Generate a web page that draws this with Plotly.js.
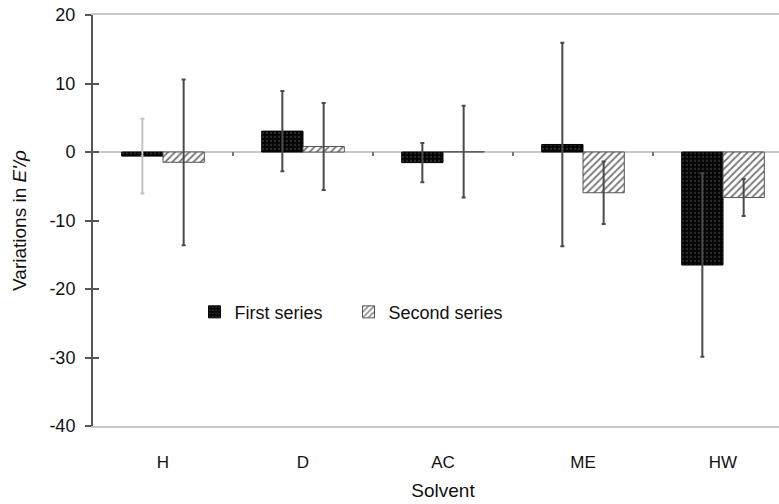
<!DOCTYPE html>
<html>
<head>
<meta charset="utf-8">
<script src="https://cdn.plot.ly/plotly-3.0.1.min.js"></script>
<style>
html,body{margin:0;padding:0;overflow:hidden;background:#fff;width:779px;height:504px;}
#chart{width:795px;height:504px;}
</style>
</head>
<body>
<div id="chart"></div>
<script>
const categories = ['H', 'D', 'AC', 'ME', 'HW'];
const firstSeries = [-0.6, 3.05, -1.55, 1.1, -16.5];
const firstErr = [5.45, 5.85, 2.85, 14.85, 13.4];
const secondSeries = [-1.5, 0.8, 0.05, -5.95, -6.65];
const secondErr = [12.1, 6.35, 6.7, 4.55, 2.7];
const seriesNames = ['First series', 'Second series'];
const yTicks = [-40, -30, -20, -10, 0, 10, 20];

const font = 'Liberation Sans, Arial, sans-serif';
const darkErr = '#4a4a4a';
const lightErr = '#c4c4c4';

// first series: error bars for H drawn in light gray, the rest dark gray
const firstErrDark = firstErr.map((e, i) => i === 0 ? 0 : e);

const traces = [
  {
    type: 'bar', name: seriesNames[0], x: categories, y: firstSeries,
    offsetgroup: 'a', legend: 'legend',
    marker: {color: '#050505', line: {color: '#000', width: 1},
             pattern: {shape: '.', fgcolor: '#2c2c2c', bgcolor: '#050505', size: 4, solidity: 0.25}},
    error_y: {type: 'data', array: firstErrDark, visible: true, color: darkErr, thickness: 2, width: 2}
  },
  {
    type: 'bar', name: seriesNames[0], x: [categories[0]], y: [firstSeries[0]],
    offsetgroup: 'a', showlegend: false, hoverinfo: 'skip',
    marker: {color: 'rgba(0,0,0,0)', line: {width: 0}},
    error_y: {type: 'data', array: [firstErr[0]], visible: true, color: lightErr, thickness: 2, width: 2}
  },
  {
    type: 'bar', name: seriesNames[1], x: categories, y: secondSeries,
    offsetgroup: 'b', legend: 'legend2',
    marker: {color: '#ffffff', line: {color: '#555555', width: 1},
             pattern: {shape: '/', fgcolor: '#777777', bgcolor: '#ffffff', size: 5, solidity: 0.35}},
    error_y: {type: 'data', array: secondErr, visible: true, color: darkErr, thickness: 2, width: 2}
  },
  // carries the inside half of the crossing y ticks
  {
    type: 'scatter', x: [categories[0]], y: [0], yaxis: 'y2', mode: 'markers',
    marker: {opacity: 0}, showlegend: false, hoverinfo: 'skip'
  }
];

// small category-boundary ticks on the zero line
const shapes = categories.map((c, i) => ({
  type: 'line', xref: 'x', yref: 'y',
  x0: i + 0.5, x1: i + 0.5, y0: 0, y1: -0.6,
  line: {color: '#777777', width: 2}
}));

const legendFont = {family: font, size: 18, color: '#111'};

const layout = {
  width: 795, height: 504,
  margin: {l: 93, r: 2, t: 15, b: 78},
  paper_bgcolor: '#ffffff', plot_bgcolor: '#ffffff',
  font: {family: font, size: 17, color: '#111'},
  barmode: 'group', bargap: 0.41, bargroupgap: 0,
  showlegend: true,
  legend: {orientation: 'h', x: 0.145, y: 0.277, xanchor: 'left', yanchor: 'middle',
           bgcolor: 'rgba(0,0,0,0)', font: legendFont, itemwidth: 30},
  legend2: {orientation: 'h', x: 0.365, y: 0.277, xanchor: 'left', yanchor: 'middle',
           bgcolor: 'rgba(0,0,0,0)', font: legendFont, itemwidth: 30},
  xaxis: {
    type: 'category', categoryorder: 'array', categoryarray: categories,
    range: [-0.5, 4.5],
    showline: true, linecolor: '#c8c8c8', linewidth: 2, mirror: true,
    ticks: '', showgrid: false, zeroline: false,
    tickfont: {family: font, size: 17, color: '#111'},
    ticklabelstandoff: 20,
    title: {text: 'Solvent', font: {family: font, size: 19, color: '#111'}, standoff: 12}
  },
  yaxis: {
    range: [-40, 20], tickvals: yTicks, ticktext: yTicks.map(String),
    showline: true, linecolor: '#555555', linewidth: 2,
    ticks: 'outside', ticklen: 6, tickwidth: 2, tickcolor: '#555555',
    showgrid: false,
    zeroline: true, zerolinecolor: '#c8c8c8', zerolinewidth: 2,
    tickfont: {family: font, size: 18, color: '#111'},
    ticklabelstandoff: 6,
    title: {text: "Variations in <i>E'/ρ</i>", font: {family: font, size: 19, color: '#111'}, standoff: 18}
  },
  yaxis2: {
    overlaying: 'y', side: 'left', anchor: 'x', range: [-40, 20], tickvals: yTicks,
    showticklabels: false, ticks: 'inside', ticklen: 6, tickwidth: 2, tickcolor: '#555555',
    showgrid: false, zeroline: false, showline: false
  },
  shapes: shapes
};

Plotly.newPlot('chart', traces, layout, {displayModeBar: false, staticPlot: true});
</script>
</body>
</html>
